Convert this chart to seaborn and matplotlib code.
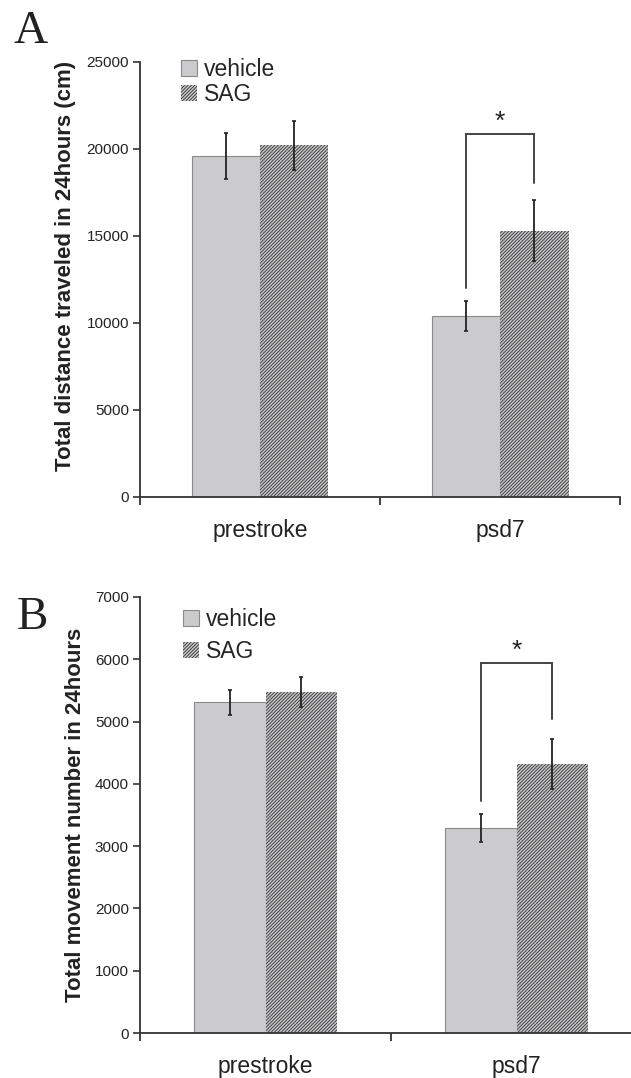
import numpy as np
import pandas as pd
import matplotlib
matplotlib.use("Agg")
import matplotlib.pyplot as plt
import seaborn as sns

# valores
grupos = ["prestroke", "psd7"]
tratamientos = ["vehicle", "SAG"]

distancia_vehicle = [19600, 10400]
distancia_sag = [20200, 15300]
distancia_err_vehicle = [1300, 850]
distancia_err_sag = [1400, 1750]

movimiento_vehicle = [5310, 3290]
movimiento_sag = [5470, 4320]
movimiento_err_vehicle = [200, 225]
movimiento_err_sag = [240, 400]

# corchete de significancia: (altura superior, extremo izq., extremo der.)
corchete_A = (20850, 12000, 18050)
corchete_B = (5940, 3720, 5040)

sns.set_style("ticks")
plt.rcParams["font.family"] = ["Liberation Sans", "DejaVu Sans"]
plt.rcParams["hatch.linewidth"] = 0.7

fig = plt.figure(figsize=(6.31, 10.78), dpi=100)
ax_a = fig.add_axes([0.2219, 0.539, 0.761, 0.4035])
ax_b = fig.add_axes([0.2219, 0.0417, 0.7956, 0.4045])


def panel(ax, vals_v, vals_s, err_v, err_s, ymax, paso, ylabel, label_xy, corchete,
          legend_y, legend_dy):
    df = pd.DataFrame({
        "grupo": grupos * 2,
        "tratamiento": [tratamientos[0]] * 2 + [tratamientos[1]] * 2,
        "valor": list(vals_v) + list(vals_s),
    })
    sns.barplot(data=df, x="grupo", y="valor", hue="tratamiento", ax=ax,
                palette=["#cbcbcd", "#cbcbcd"], width=0.57, errorbar=None,
                saturation=1, legend=False)
    cont_v, cont_s = ax.containers[0], ax.containers[1]
    for p in cont_v:
        p.set_edgecolor("#8a8a8a")
        p.set_linewidth(0.8)
    for p in cont_s:
        p.set_edgecolor("#404040")
        p.set_hatch("//////////")
        p.set_linewidth(0.0)
    xs_v = [p.get_x() + p.get_width() / 2 for p in cont_v]
    xs_s = [p.get_x() + p.get_width() / 2 for p in cont_s]
    ax.errorbar(xs_v, vals_v, yerr=err_v, fmt="none", ecolor="#222222",
                elinewidth=1.3, capsize=1.6, capthick=1.2)
    ax.errorbar(xs_s, vals_s, yerr=err_s, fmt="none", ecolor="#222222",
                elinewidth=1.3, capsize=1.6, capthick=1.2)

    # corchete sobre psd7
    top, izq, der = corchete
    ax.plot([xs_v[1], xs_v[1], xs_s[1], xs_s[1]], [izq, top, top, der],
            color="#444444", lw=1.4, solid_joinstyle="miter")
    ax.text((xs_v[1] + xs_s[1]) / 2, top, "*", ha="center", va="bottom",
            fontsize=19, color="#222222")

    ax.set_xlim(-0.5, 1.5)
    ax.set_ylim(0, ymax)
    ax.set_yticks(np.arange(0, ymax + 1, paso))
    ax.set_xticks([0, 1])
    ax.set_xticklabels(grupos, fontsize=16.5, color="#222222")
    ax.set_xticks([-0.5, 0.5, 1.5], minor=True)
    ax.tick_params(axis="x", which="major", length=0, pad=16)
    ax.tick_params(axis="x", which="minor", length=6, width=1.3, direction="out",
                   color="#333333")
    ax.tick_params(axis="y", length=5, width=1.2, direction="out", color="#333333",
                   labelsize=11, labelcolor="#222222", pad=3)
    ax.set_xlabel("")
    ax.set_ylabel(ylabel, fontsize=16, fontweight="bold", color="#222222")
    ax.yaxis.set_label_coords(*label_xy)
    for s in ["left", "bottom"]:
        ax.spines[s].set_linewidth(1.3)
        ax.spines[s].set_color("#333333")
    sns.despine(ax=ax)

    handles = [cont_v[0], cont_s[0]]
    ax.legend(handles, tratamientos, loc="upper left",
              bbox_to_anchor=(0.085, legend_y), frameon=False, fontsize=16.5,
              handlelength=0.7, handleheight=0.7, handletextpad=0.3,
              labelspacing=legend_dy, borderaxespad=0, borderpad=0)


panel(ax_a, distancia_vehicle, distancia_sag, distancia_err_vehicle, distancia_err_sag,
      25000, 5000, "Total distance traveled in 24hours (cm)", (-0.134, 0.53),
      corchete_A, 1.01, 0.1)
panel(ax_b, movimiento_vehicle, movimiento_sag, movimiento_err_vehicle, movimiento_err_sag,
      7000, 1000, "Total movement number in 24hours", (-0.108, 0.5),
      corchete_B, 0.975, 0.4)

fig.text(0.022, 0.990, "A", fontsize=34, family="Liberation Serif", va="top", color="#222222")
fig.text(0.027, 0.4465, "B", fontsize=34, family="Liberation Serif", va="top", color="#222222")

fig.savefig("out.png", dpi=100)
